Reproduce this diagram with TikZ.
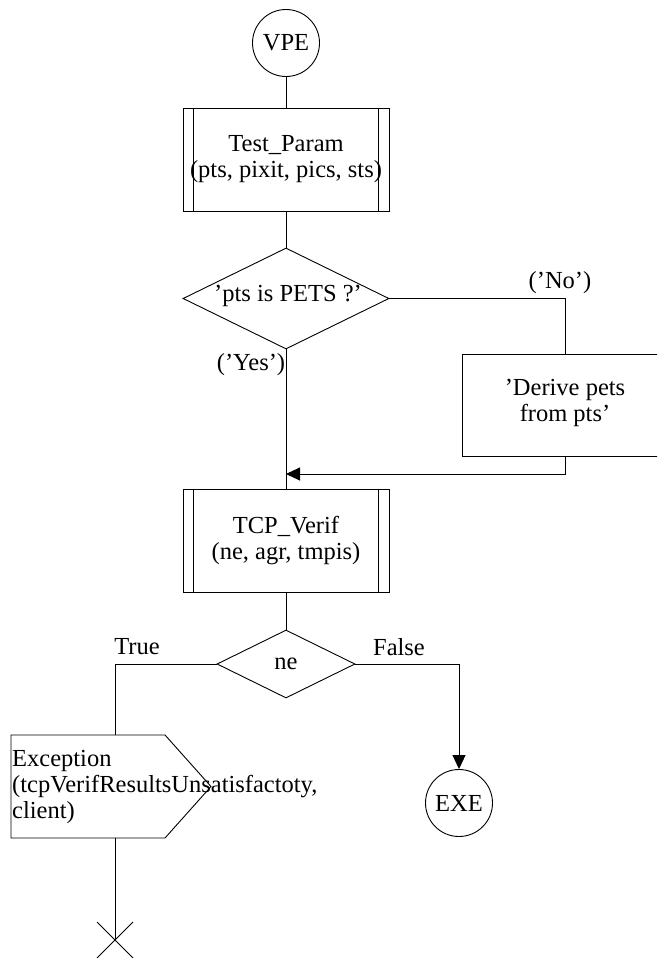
\documentclass[tikz,border=0pt]{standalone}
\usepackage{fontspec}
\setmainfont{Liberation Serif}
\usetikzlibrary{shapes.geometric,arrows.meta}
\begin{document}
\begin{tikzpicture}[x=1pt,y=-1pt,
  every node/.style={font=\fontsize{24.5}{26}\selectfont},
  line/.style={draw, line width=0.9pt},
  conn/.style={line width=0.9pt},
  arr/.style={conn, -{Triangle[length=14pt,width=13pt]}},
  term/.style={circle, line, minimum size=67pt, inner sep=0pt},
  proc/.style={rectangle, line, minimum width=206pt, minimum height=103pt, inner sep=0pt, align=center},
  task/.style={rectangle, line, minimum width=206pt, minimum height=102pt, inner sep=0pt},
  dec/.style={diamond, line, inner sep=0pt},
  lbl/.style={inner sep=0pt}
]
\clip (0,0) rectangle (657,958);
\fill[white] (0,0) rectangle (657,958);

% start and end terminals
\node[term] (vpe) at (286,43) {VPE};
\node[term] (exe) at (459,803) {EXE};

% procedure calls, with their double side bars
\node[proc] (tp) at (286,159.5) {Test\_Param\\(pts, pixit, pics, sts)};
\node[proc] (tcp) at (286,540.5) {TCP\_Verif\\(ne, agr, tmpis)};
\foreach \b in {tp,tcp} {
  \draw[conn] ([xshift=11pt]\b.north west) -- ([xshift=11pt]\b.south west);
  \draw[conn] ([xshift=-11pt]\b.north east) -- ([xshift=-11pt]\b.south east);
}

% decisions
\node[dec, minimum width=206pt, minimum height=101pt] (d1) at (286,298.5) {};
\node[lbl] (d1t) at (288,296) {'pts is PETS ?'};
\node[dec, minimum width=138pt, minimum height=68pt] (d2) at (286,664) {};
\node[lbl] (d2t) at (286,664) {ne};

% task box, running past the right edge
\node[task] (der) at (565,405) {};
\node[lbl, align=center] (dert) at (565,403) {'Derive pets\\from pts'};

% exception output
\coordinate (exnw) at (11,735);
\coordinate (exne) at (165,735);
\coordinate (exe0) at (211,786.5);
\coordinate (exse) at (165,838);
\coordinate (exsw) at (11,838);
\draw[conn] (exnw) -- (exne) -- (exe0) -- (exse) -- (exsw) -- cycle;
\coordinate (extop) at (115,735);
\coordinate (exbot) at (115,838);
\node[lbl, anchor=north west, align=left] (ext) at (12,750)
  {Exception\\(tcpVerifResultsUnsatisfactoty,\\client)};

% stop mark
\coordinate (stop) at (115,940);
\draw[conn] ([shift={(-18,-18)}]stop) -- ([shift={(18,18)}]stop);
\draw[conn] ([shift={(18,-18)}]stop) -- ([shift={(-18,18)}]stop);

% flow
\draw[conn] (vpe) -- (tp);
\draw[conn] (tp) -- (d1.north);
\draw[conn] (d1.south) -- (tcp.north);
\draw[conn] (d1.east) -| (der.north);
\coordinate (merge) at (286,474);
\draw[arr] (der.south) |- (merge);
\draw[conn] (tcp.south) -- (d2.north);
\draw[conn] (d2.west) -| (extop);
\draw[arr] (d2.east) -| (exe.north);
\draw[conn] (exbot) -- (stop);

% branch labels
\node[lbl] (no) at (560,283) {('No')};
\node[lbl] (yes) at (251,365) {('Yes')};
\node[lbl] (tru) at (137,647) {True};
\node[lbl] (fal) at (399,647) {False};
\end{tikzpicture}
\end{document}
